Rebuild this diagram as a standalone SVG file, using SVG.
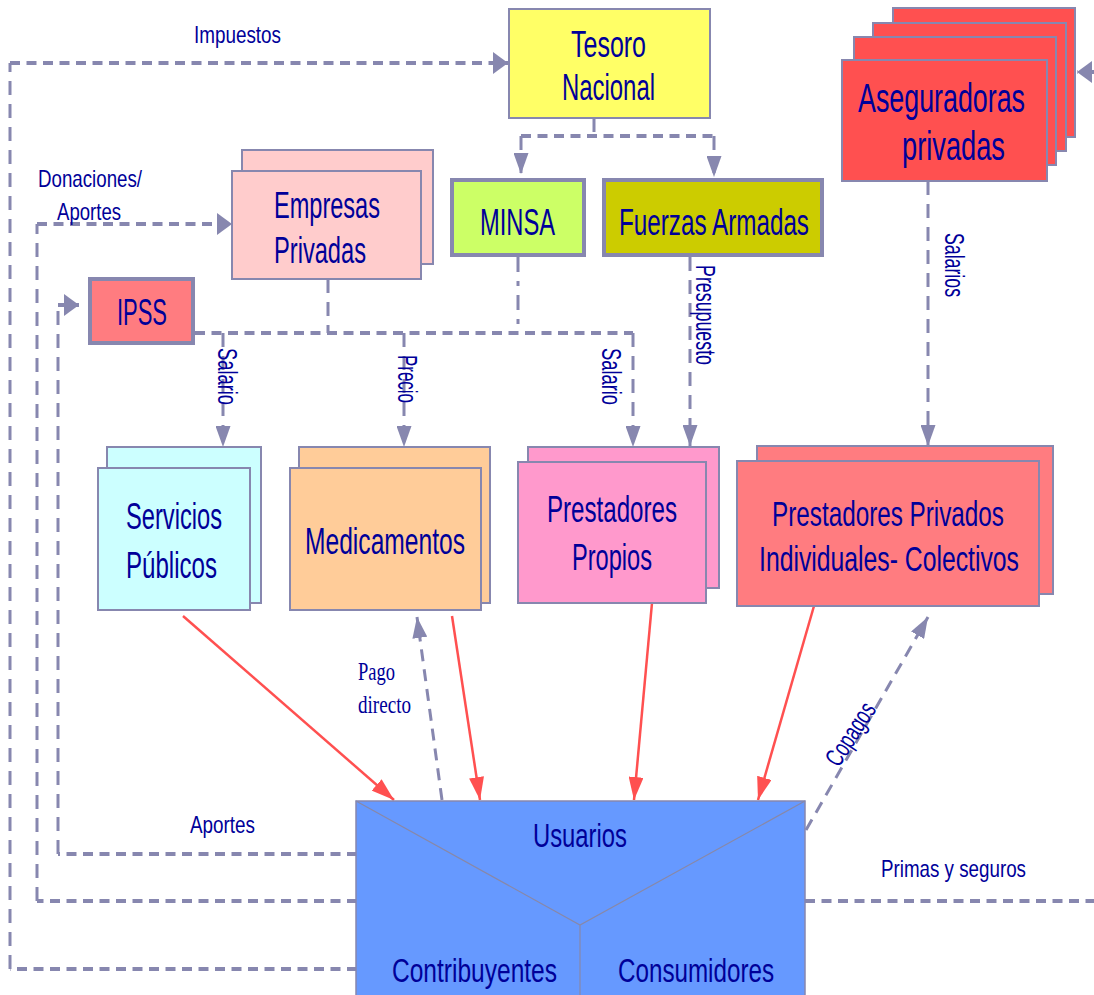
<svg xmlns="http://www.w3.org/2000/svg" width="1094" height="995" viewBox="0 0 1094 995">
<defs>
<marker id="mh" markerUnits="userSpaceOnUse" markerWidth="15" markerHeight="22" viewBox="0 0 15 22" refX="15" refY="11" orient="auto"><path d="M0,0 L15,11 L0,22 z" fill="#8787AF"/></marker>
<marker id="mv" markerUnits="userSpaceOnUse" markerWidth="21" markerHeight="15" viewBox="0 0 21 15" refX="21" refY="7.5" orient="auto"><path d="M0,0 L21,7.5 L0,15 z" fill="#8787AF"/></marker>
<marker id="mr" markerUnits="userSpaceOnUse" markerWidth="23" markerHeight="15" viewBox="0 0 23 15" refX="23" refY="7.5" orient="auto"><path d="M0,0 L23,7.5 L0,15 z" fill="#FF5050"/></marker>
</defs>
<style>
.t{font-family:"Liberation Sans",Arial,sans-serif;fill:#000099}
.b{font-size:36px}
.s{font-size:24px}
.r{font-size:28px}
.sf{font-family:"Liberation Serif","Times New Roman",serif;fill:#000099;font-size:25px}
.box{stroke:#8787AF;stroke-width:2;stroke-linejoin:miter}
.thick{stroke:#8787AF;stroke-width:4}
.dh{fill:none;stroke:#8787AF;stroke-width:4;stroke-dasharray:10 6.5}
.dv{fill:none;stroke:#8787AF;stroke-width:3;stroke-dasharray:14 9}
.dd{fill:none;stroke:#8787AF;stroke-width:3;stroke-dasharray:12 8}
.red{fill:none;stroke:#FF5050;stroke-width:2.5}
</style>
<rect width="1094" height="995" fill="#FFFFFF"/>

<g id="connectors">
  <path class="dh" d="M357,969 H10"/>
  <path class="dv" d="M10,969 V63"/>
  <path class="dh" d="M10,63 H508" marker-end="url(#mh)"/>
  <path class="dh" d="M357,901 H37"/>
  <path class="dv" d="M37,901 V224"/>
  <path class="dh" d="M37,224 H232" marker-end="url(#mh)"/>
  <path class="dh" d="M357,854 H58"/>
  <path class="dv" d="M58,854 V305"/>
  <path class="dh" d="M58,305 H79" marker-end="url(#mh)"/>
  <path class="dh" d="M805,901 H1094"/>
  <path class="dh" d="M1094,72 H1077" marker-end="url(#mh)"/>
  <path class="dv" d="M594,118 V136"/>
  <path class="dh" d="M521,136 H714"/>
  <path class="dv" d="M521,136 V174" marker-end="url(#mv)"/>
  <path class="dv" d="M714,136 V177" marker-end="url(#mv)"/>
  <path class="dv" d="M328,279 V333"/>
  <path fill="none" stroke="#8787AF" stroke-width="3" stroke-dasharray="15 9 5 9" d="M518,257 V333"/>
  <path class="dh" d="M195,333 H633"/>
  <path class="dv" d="M633,333 V447" marker-end="url(#mv)"/>
  <path class="dv" d="M223,333 V447" marker-end="url(#mv)"/>
  <path class="dv" d="M404,333 V447" marker-end="url(#mv)"/>
  <path class="dv" d="M690,257 V446" marker-end="url(#mv)"/>
  <path class="dv" d="M928,181 V446" marker-end="url(#mv)"/>
  <path class="dd" d="M442,800 L417,617" marker-end="url(#mv)"/>
  <path class="dd" d="M806,830 L928,617" marker-end="url(#mv)"/>
  <path class="red" d="M183,616 L394,800" marker-end="url(#mr)"/>
  <path class="red" d="M452,616 L480,800" marker-end="url(#mr)"/>
  <path class="red" d="M652,603 L634,800" marker-end="url(#mr)"/>
  <path class="red" d="M814,606 L758,800" marker-end="url(#mr)"/>
</g>

<g id="tesoro">
  <rect class="box" x="509" y="9" width="201" height="109" fill="#FFFF66"/>
  <text class="t b" x="608.5" y="57" text-anchor="middle" textLength="75" lengthAdjust="spacingAndGlyphs">Tesoro</text>
  <text class="t b" x="608.5" y="100" text-anchor="middle" textLength="93" lengthAdjust="spacingAndGlyphs">Nacional</text>
</g>
<g id="minsa">
  <rect class="thick" x="452" y="180" width="132" height="75" fill="#CCFF66"/>
  <text class="t b" x="517.5" y="235" text-anchor="middle" textLength="75" lengthAdjust="spacingAndGlyphs">MINSA</text>
</g>
<g id="fuerzas">
  <rect class="thick" x="604" y="180" width="218" height="75" fill="#CCCC00"/>
  <text class="t b" x="714" y="235" text-anchor="middle" textLength="190" lengthAdjust="spacingAndGlyphs">Fuerzas Armadas</text>
</g>
<g id="empresas">
  <path class="box" d="M242,171 V150 H433 V264 H421 V171 Z" fill="#FFCCCC"/>
  <rect class="box" x="232" y="171" width="189" height="108" fill="#FFCCCC"/>
  <text class="t b" x="274" y="218" textLength="106" lengthAdjust="spacingAndGlyphs">Empresas</text>
  <text class="t b" x="274" y="263" textLength="92" lengthAdjust="spacingAndGlyphs">Privadas</text>
</g>
<g id="ipss">
  <rect class="thick" x="90" y="279" width="103" height="64" fill="#FF7C80"/>
  <text class="t b" x="142" y="325" text-anchor="middle" textLength="50" lengthAdjust="spacingAndGlyphs">IPSS</text>
</g>
<g id="aseguradoras">
  <path class="box" d="M893,23 V8 H1075 V137 H1066 V23 Z" fill="#FF5050"/>
  <path class="box" d="M873,37 V23 H1066 V151 H1056 V37 Z" fill="#FF5050"/>
  <path class="box" d="M854,60 V37 H1056 V165 H1047 V60 Z" fill="#FF5050"/>
  <rect class="box" x="842" y="60" width="205" height="121" fill="#FF5050"/>
  <text class="t" font-size="40" transform="translate(941.5,112) scale(0.7,1)" x="0" y="0" text-anchor="middle" textLength="238.6" lengthAdjust="spacingAndGlyphs">Aseguradoras</text>
  <text class="t" font-size="40" transform="translate(953.5,160) scale(0.7,1)" x="0" y="0" text-anchor="middle" textLength="147" lengthAdjust="spacingAndGlyphs">privadas</text>
</g>
<g id="servicios">
  <path class="box" d="M107,468 V447 H261 V603 H250 V468 Z" fill="#CCFFFF"/>
  <rect class="box" x="98" y="468" width="152" height="142" fill="#CCFFFF"/>
  <text class="t b" x="126" y="529" textLength="96" lengthAdjust="spacingAndGlyphs">Servicios</text>
  <text class="t b" x="126" y="578" textLength="91" lengthAdjust="spacingAndGlyphs">Públicos</text>
</g>
<g id="medicamentos">
  <path class="box" d="M299,468 V447 H490 V603 H481 V468 Z" fill="#FFCC99"/>
  <rect class="box" x="290" y="468" width="191" height="142" fill="#FFCC99"/>
  <text class="t b" x="385" y="554" text-anchor="middle" textLength="160" lengthAdjust="spacingAndGlyphs">Medicamentos</text>
</g>
<g id="prestadores-propios">
  <path class="box" d="M528,462 V447 H719 V588 H706 V462 Z" fill="#FF99CC"/>
  <rect class="box" x="518" y="462" width="188" height="141" fill="#FF99CC"/>
  <text class="t b" x="612" y="522" text-anchor="middle" textLength="130" lengthAdjust="spacingAndGlyphs">Prestadores</text>
  <text class="t b" x="612" y="570" text-anchor="middle" textLength="80" lengthAdjust="spacingAndGlyphs">Propios</text>
</g>
<g id="prestadores-privados">
  <path class="box" d="M757,461 V446 H1053 V594 H1039 V461 Z" fill="#FF7C80"/>
  <rect class="box" x="737" y="461" width="302" height="145" fill="#FF7C80"/>
  <text class="t b" transform="translate(888,526) scale(0.7,1)" x="0" y="0" text-anchor="middle" textLength="331.4" lengthAdjust="spacingAndGlyphs">Prestadores Privados</text>
  <text class="t b" transform="translate(889,571) scale(0.7,1)" x="0" y="0" text-anchor="middle" textLength="371.4" lengthAdjust="spacingAndGlyphs">Individuales- Colectivos</text>
</g>
<g id="usuarios">
  <rect x="356" y="801" width="449" height="210" fill="#6699FF" stroke="#8787AF" stroke-width="1.5"/>
  <path d="M356,801 L580,925 L805,801 M580,925 V995" fill="none" stroke="#8888A8" stroke-width="1.2"/>
  <text class="t" font-size="34" x="580" y="847" text-anchor="middle" textLength="94" lengthAdjust="spacingAndGlyphs">Usuarios</text>
  <text class="t" font-size="34" x="474.5" y="982" text-anchor="middle" textLength="165" lengthAdjust="spacingAndGlyphs">Contribuyentes</text>
  <text class="t" font-size="34" x="696" y="982" text-anchor="middle" textLength="156" lengthAdjust="spacingAndGlyphs">Consumidores</text>
</g>

<g id="labels">
  <text class="t s" x="194" y="43" textLength="87" lengthAdjust="spacingAndGlyphs">Impuestos</text>
  <text class="t s" x="38" y="187" textLength="104" lengthAdjust="spacingAndGlyphs">Donaciones/</text>
  <text class="t s" x="57" y="220" textLength="64" lengthAdjust="spacingAndGlyphs">Aportes</text>
  <text class="t s" x="190" y="833" textLength="65" lengthAdjust="spacingAndGlyphs">Aportes</text>
  <text class="t s" x="881" y="877" textLength="145" lengthAdjust="spacingAndGlyphs">Primas y seguros</text>
  <text class="sf" x="358" y="680" textLength="37" lengthAdjust="spacingAndGlyphs">Pago</text>
  <text class="sf" x="358" y="713" textLength="53" lengthAdjust="spacingAndGlyphs">directo</text>
  <text class="t r" transform="translate(218,376.5) rotate(90)" x="0" y="0" text-anchor="middle" textLength="57" lengthAdjust="spacingAndGlyphs">Salario</text>
  <text class="t r" transform="translate(398,379) rotate(90)" x="0" y="0" text-anchor="middle" textLength="48" lengthAdjust="spacingAndGlyphs">Precio</text>
  <text class="t r" transform="translate(602,376.5) rotate(90)" x="0" y="0" text-anchor="middle" textLength="57" lengthAdjust="spacingAndGlyphs">Salario</text>
  <text class="t r" transform="translate(696,315) rotate(90)" x="0" y="0" text-anchor="middle" textLength="100" lengthAdjust="spacingAndGlyphs">Presupuesto</text>
  <text class="t r" transform="translate(945,265) rotate(90)" x="0" y="0" text-anchor="middle" textLength="64" lengthAdjust="spacingAndGlyphs">Salarios</text>
  <text class="t" font-size="26" transform="translate(852,735) rotate(-57)" x="0" y="7" text-anchor="middle" textLength="70" lengthAdjust="spacingAndGlyphs">Copagos</text>
</g>
</svg>
